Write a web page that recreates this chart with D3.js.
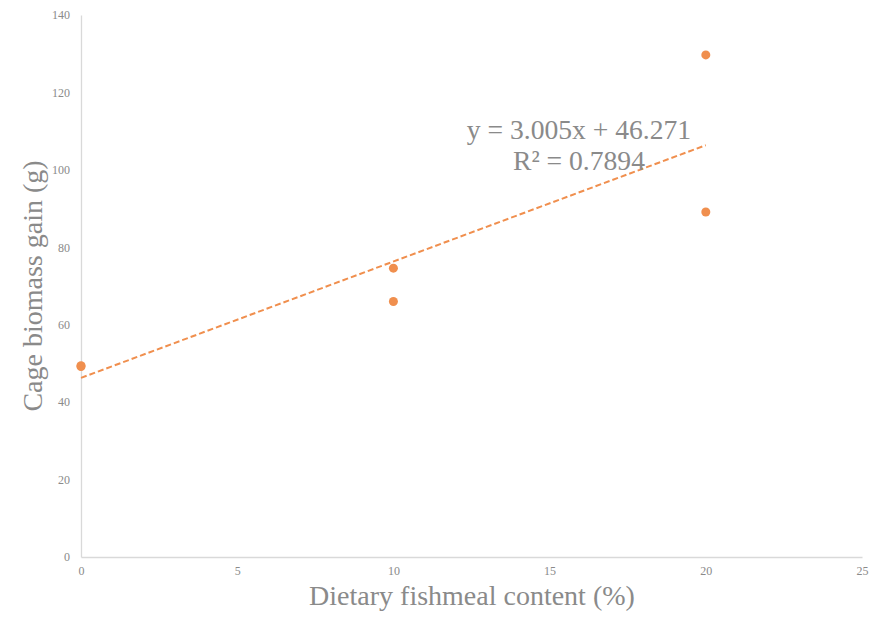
<!DOCTYPE html>
<html>
<head>
<meta charset="utf-8">
<script src="https://cdn.jsdelivr.net/npm/d3@7/dist/d3.min.js"></script>
<style>
  html, body { margin: 0; padding: 0; background: #fff; }
  svg { display: block; }
</style>
</head>
<body>
<svg id="chart" width="892" height="618"></svg>
<script>
// Fishmeal inclusion (%) and cage biomass gain (g) per cage
const fishmeal = [0, 0, 10, 10, 20, 20];
const biomassGain = [49.2, 49.4, 74.6, 66.0, 129.7, 89.1];

// Linear trend reported for the series
const trendSlope = 3.005;
const trendIntercept = 46.271;
const trendLabels = ["y = 3.005x + 46.271", "R\u00B2 = 0.7894"];

const xTicks = [0, 5, 10, 15, 20, 25];
const yTicks = [0, 20, 40, 60, 80, 100, 120, 140];

const xTitle = "Dietary fishmeal content (%)";
const yTitle = "Cage biomass gain (g)";

const W = 892, H = 618;
const margin = { left: 81, right: 30, top: 15, bottom: 61 };
const serif = "'Liberation Serif', 'Times New Roman', serif";
const orange = "#F08F4E";
const textGrey = "#8a8a8a";
const axisGrey = "#d9d9d9";

const svg = d3.select("#chart");

const x = d3.scaleLinear().domain([0, 25]).range([margin.left, W - margin.right]);
const y = d3.scaleLinear().domain([0, 140]).range([H - margin.bottom, margin.top]);

// Axes: light lines, no tick marks
const xAxis = svg.append("g")
  .attr("transform", `translate(0,${y(0)})`)
  .call(d3.axisBottom(x).tickValues(xTicks).tickSize(0).tickPadding(9).tickFormat(d3.format("d")));
const yAxis = svg.append("g")
  .attr("transform", `translate(${x(0)},0)`)
  .call(d3.axisLeft(y).tickValues(yTicks).tickSize(0).tickPadding(11).tickFormat(d3.format("d")));

[xAxis, yAxis].forEach(g => {
  g.select(".domain").attr("stroke", axisGrey).attr("stroke-width", 1.3);
  g.selectAll("text")
    .attr("fill", textGrey)
    .style("font-family", serif)
    .style("font-size", "12px");
});

// Trend line over the observed range
const trendX = d3.extent(fishmeal);
svg.append("line")
  .attr("x1", x(trendX[0]))
  .attr("y1", y(trendIntercept + trendSlope * trendX[0]))
  .attr("x2", x(trendX[1]))
  .attr("y2", y(trendIntercept + trendSlope * trendX[1]))
  .attr("stroke", orange)
  .attr("stroke-width", 2)
  .attr("stroke-dasharray", "6,3");

// Cage observations
svg.append("g")
  .selectAll("circle")
  .data(fishmeal.map((f, i) => ({ f, g: biomassGain[i] })))
  .join("circle")
  .attr("cx", d => x(d.f))
  .attr("cy", d => y(d.g))
  .attr("r", 4.5)
  .attr("fill", orange);

// Trend equation label
const eq = svg.append("text")
  .attr("text-anchor", "middle")
  .attr("fill", textGrey)
  .style("font-family", serif)
  .style("font-size", "27.6px");
trendLabels.forEach((t, i) => {
  eq.append("tspan")
    .attr("x", 579)
    .attr("y", 139 + i * 31)
    .text(t);
});

// Axis titles
svg.append("text")
  .attr("x", 472)
  .attr("y", 605)
  .attr("text-anchor", "middle")
  .attr("fill", textGrey)
  .style("font-family", serif)
  .style("font-size", "28px")
  .text(xTitle);

svg.append("text")
  .attr("transform", `translate(42,${(y(0) + y(140)) / 2}) rotate(-90)`)
  .attr("text-anchor", "middle")
  .attr("fill", textGrey)
  .style("font-family", serif)
  .style("font-size", "28px")
  .text(yTitle);
</script>
</body>
</html>
